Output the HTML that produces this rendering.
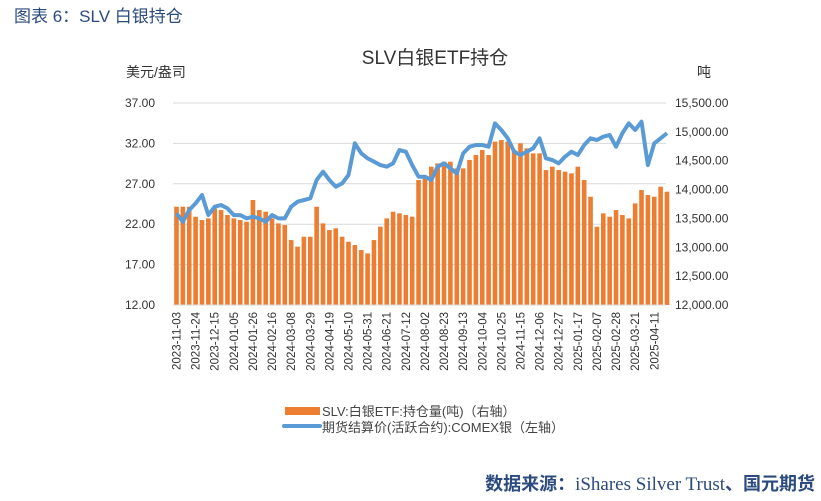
<!DOCTYPE html>
<html><head><meta charset="utf-8"><style>
html,body{margin:0;padding:0;background:#fff;width:821px;height:501px;overflow:hidden}
svg{display:block}
text{font-family:"Liberation Sans","Noto Sans CJK SC",sans-serif}
</style></head><body>
<svg id="chart" width="821" height="501" viewBox="0 0 821 501">
<text x="14" y="22" font-size="17" fill="#2b4a7e">图表 6：SLV 白银持仓</text>
<text x="435" y="64" font-size="19" fill="#333" text-anchor="middle">SLV白银ETF持仓</text>
<text x="126" y="77" font-size="14" fill="#333">美元/盎司</text>
<text x="697" y="77" font-size="14" fill="#333">吨</text>
<g id="grid"></g><g id="bars"></g><g id="line"></g><g id="axes"></g>
<g>
<rect x="285" y="407" width="35" height="8" fill="#ed7d31"/>
<text x="322" y="416" font-size="13" fill="#444">SLV:白银ETF:持仓量(吨)（右轴）</text>
<line x1="284" y1="426" x2="320" y2="426" stroke="#5b9bd5" stroke-width="4" stroke-linecap="round"/>
<text x="322" y="432" font-size="13" fill="#444">期货结算价(活跃合约):COMEX银（左轴）</text>
</g>
<text x="815" y="490" font-size="18" fill="#2b4a7e" text-anchor="end" font-weight="bold">数据来源：<tspan font-family="Liberation Serif, serif" font-weight="normal" font-size="19">iShares Silver Trust</tspan>、国元期货</text>
</svg>
<script>
const tickLabels=["2023-11-03","2023-11-24","2023-12-15","2024-01-05","2024-01-26","2024-02-16","2024-03-08","2024-03-29","2024-04-19","2024-05-10","2024-05-31","2024-06-21","2024-07-12","2024-08-02","2024-08-23","2024-09-13","2024-10-04","2024-10-25","2024-11-15","2024-12-06","2024-12-27","2025-01-17","2025-02-07","2025-02-28","2025-03-21","2025-04-11"];
const leftTicks=[12,17,22,27,32,37];
const rightTicks=[12000,12500,13000,13500,14000,14500,15000,15500];
const holdings=[13703,13703,13703,13530,13472,13501,13674,13645,13559,13501,13472,13443,13819,13645,13616,13501,13414,13385,13125,13010,13183,13183,13703,13414,13299,13328,13183,13096,13039,12952,12894,13125,13357,13501,13616,13588,13559,13530,14165,14194,14396,14454,14483,14483,14367,14367,14512,14598,14685,14598,14830,14858,14830,14685,14801,14714,14627,14627,14338,14396,14338,14310,14281,14396,14165,13876,13357,13588,13530,13645,13559,13501,13761,13992,13905,13876,14050,13963];
const price=[23.34,22.31,23.75,24.58,25.61,23.13,24.17,24.37,23.96,23.13,23.13,22.72,22.93,22.72,22.31,23.13,22.72,22.72,24.17,24.78,24.99,25.2,27.47,28.5,27.47,26.64,27.05,28.09,32.01,30.77,30.15,29.74,29.32,29.12,29.53,31.18,30.98,29.32,27.88,27.88,27.47,29.12,29.53,28.91,28.29,30.77,31.59,31.8,31.8,31.59,34.48,33.66,32.63,30.98,30.56,30.98,31.39,32.63,30.15,29.94,29.53,30.36,30.98,30.56,31.8,32.63,32.42,32.83,33.04,31.59,33.26,34.48,33.66,34.69,29.32,32.01,32.63,33.26];
const NS="http://www.w3.org/2000/svg";
const X0=173,X1=666,YT=103,YB=305;
const step=6.37, first=176.5;
const xs=i=>first+i*step;
const yL=v=>YB-(v-12)/25*(YB-YT);
const yR=v=>YB-(v-12000)/3500*(YB-YT);
function mk(tag,attrs,parent){const e=document.createElementNS(NS,tag);for(const k in attrs)e.setAttribute(k,attrs[k]);parent.appendChild(e);return e;}
const grid=document.getElementById('grid'),bars=document.getElementById('bars'),line=document.getElementById('line'),axes=document.getElementById('axes');
leftTicks.forEach(v=>{
  const g=mk('line',{x1:X0,x2:X1,y1:yL(v),y2:yL(v),stroke:'#d9d9d9','stroke-width':1},grid);
  
  
  const t=mk('text',{x:155,y:yL(v)+4,'font-size':12,fill:'#333','text-anchor':'end'},axes);
  t.textContent=v.toFixed(2);
  
  
});
rightTicks.forEach(v=>{
  const t=mk('text',{x:675,y:yR(v)+4,'font-size':12,fill:'#333'},axes);
  t.textContent=v.toLocaleString('en-US',{minimumFractionDigits:2});
  
  
});
holdings.forEach((v,i)=>{
  const r=mk('rect',{x:xs(i)-2.3,y:yR(v),width:4.6,height:YB-yR(v),fill:'#ed7d31'},bars);
  
  
});
const pl=mk('polyline',{points:price.map((v,i)=>xs(i)+','+yL(v)).join(' '),fill:'none',stroke:'#5b9bd5','stroke-width':4,'stroke-linejoin':'round'},line);


const ax=mk('line',{x1:X0,x2:X1,y1:YB,y2:YB,stroke:'#d9d9d9'},axes);


tickLabels.forEach((s,k)=>{
  const x=xs(k*3);
  const t=mk('text',{x:0,y:0,'font-size':11.5,fill:'#333','text-anchor':'end',transform:`translate(${x+4},${YB+7}) rotate(-90)`},axes);
  t.textContent=s;
  
  
});
</script>
</body></html>
